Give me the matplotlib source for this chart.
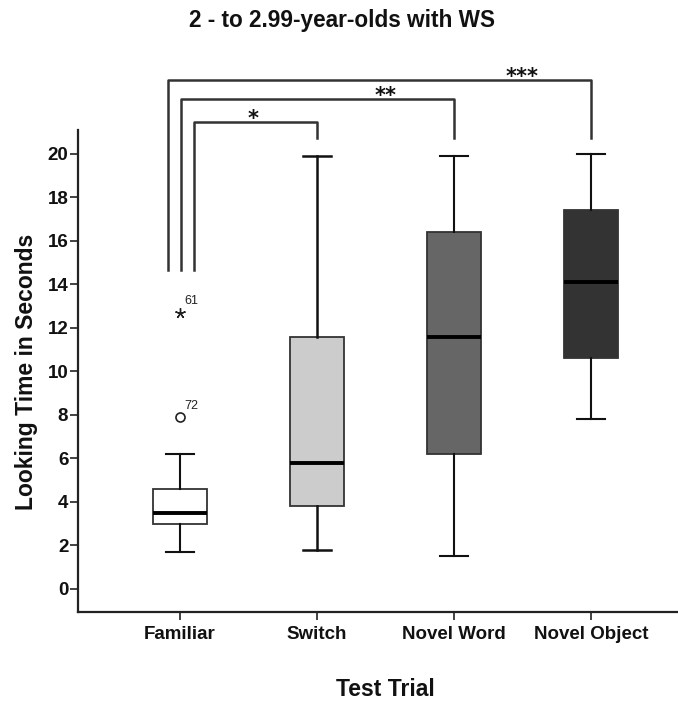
import matplotlib
matplotlib.use('Agg')
import matplotlib.pyplot as plt

# ---- data ----
categories = ['Familiar', 'Switch', 'Novel Word', 'Novel Object']
whislo = [1.7, 1.8, 1.5, 7.8]
q1 = [3.0, 3.8, 6.2, 10.6]
med = [3.5, 5.8, 11.6, 14.1]
q3 = [4.6, 11.6, 16.4, 17.4]
whishi = [6.2, 19.9, 19.9, 20.0]
box_colors = ['#ffffff', '#cccccc', '#666666', '#333333']

outlier_values = [12.7, 7.9]
outlier_labels = ['61', '72']
outlier_markers = ['*', 'o']

sig_targets = [2, 3, 4]
sig_stars = ['*', '**', '***']
yticks = [0, 2, 4, 6, 8, 10, 12, 14, 16, 18, 20]

plt.rcParams['font.family'] = ['Liberation Sans', 'DejaVu Sans']

fig = plt.figure(figsize=(6.78, 7.08), dpi=100)
ax = fig.add_axes([78 / 678, 96 / 708, 600 / 678, 482 / 708])

positions = list(range(1, len(categories) + 1))
stats = []
for i, c in enumerate(categories):
    stats.append(dict(label=c, whislo=whislo[i], q1=q1[i], med=med[i],
                      q3=q3[i], whishi=whishi[i], fliers=[]))

bp = ax.bxp(stats, positions=positions, widths=0.4, patch_artist=True,
            showfliers=False,
            boxprops=dict(linewidth=1.3, edgecolor='#333333'),
            whiskerprops=dict(linewidth=1.5, color='#111111'),
            capprops=dict(linewidth=1.5, color='#111111'),
            medianprops=dict(linewidth=2.8, color='#000000'),
            capwidths=0.2)
for patch, col in zip(bp['boxes'], box_colors):
    patch.set_facecolor(col)
# Switch whiskers drawn a little heavier, as in the reference
for line in bp['whiskers'][2:4] + bp['caps'][2:4]:
    line.set_linewidth(1.8)

# outliers for Familiar
for v, lab, m in zip(outlier_values, outlier_labels, outlier_markers):
    if m == '*':
        ax.plot([1], [v], marker=(5, 2, 0), markersize=7.5, color='#222222',
                markeredgewidth=1.0)
    else:
        ax.plot([1], [v], marker='o', markersize=6.5, markerfacecolor='white',
                markeredgecolor='#222222', markeredgewidth=1.2)
    ax.annotate(lab, xy=(1, v), xytext=(3, 4), textcoords='offset points',
                fontsize=9, color='#222222', ha='left', va='bottom')

# significance brackets
left_x = [1.10, 1.005, 0.91]
top_y = [21.49, 22.53, 23.4]
for tx, lx, ty in zip(sig_targets, left_x, top_y):
    ax.plot([lx, lx, tx, tx], [14.67, ty, ty, 20.74], color='#333333',
            lw=1.8, clip_on=False, solid_joinstyle='round')
text_x = [1.53, 2.50, 3.50]
for tx, s, ty in zip(text_x, sig_stars, top_y):
    ax.annotate(s, xy=(tx, ty), xytext=(0, -2.5), textcoords='offset points',
                ha='center', va='baseline', fontsize=15, fontweight='bold',
                color='#111111', family='DejaVu Sans', annotation_clip=False)

ax.set_xlim(0.255, 4.635)
ax.set_ylim(-1.06, 21.1)
ax.set_yticks(yticks)
ax.set_xticks(positions)
ax.set_xticklabels(categories)

for sp in ['top', 'right']:
    ax.spines[sp].set_visible(False)
for sp in ['left', 'bottom']:
    ax.spines[sp].set_linewidth(1.6)
    ax.spines[sp].set_color('#222222')
ax.tick_params(axis='both', direction='out', length=5.5, width=1.2,
               color='#222222', labelsize=13.5, labelcolor='#111111')
ax.tick_params(axis='x', pad=4.5)
ax.tick_params(axis='y', pad=1.5)
for lbl in ax.get_xticklabels() + ax.get_yticklabels():
    lbl.set_fontweight('bold')

fig.text(342 / 678, 1 - 21 / 708, '2 - to 2.99-year-olds with WS',
         ha='center', va='center', fontsize=16.3, fontweight='bold', color='#111111')
fig.text(27 / 678, 1 - 372 / 708, 'Looking Time in Seconds', rotation=90,
         ha='center', va='center', fontsize=16.5, fontweight='bold', color='#111111')
fig.text(385 / 678, 1 - 690 / 708, 'Test Trial', ha='center', va='center',
         fontsize=16.5, fontweight='bold', color='#111111')

fig.savefig('out.png', dpi=100)
